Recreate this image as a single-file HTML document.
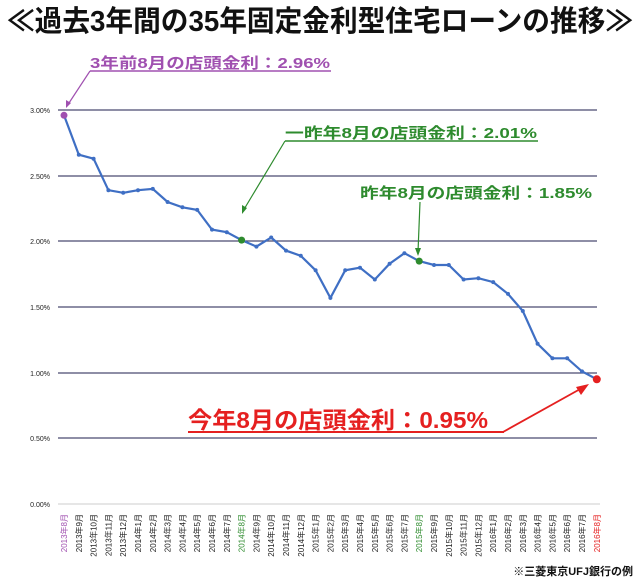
<!DOCTYPE html>
<html><head><meta charset="utf-8"><style>
body{margin:0;background:#fff;width:640px;height:580px;overflow:hidden}
svg{display:block}
</style></head><body>
<svg width="640" height="580" xmlns="http://www.w3.org/2000/svg" font-family="Liberation Sans, Noto Sans CJK JP, sans-serif">
<text x="320" y="31" text-anchor="middle" font-size="29" font-weight="bold" fill="#111" textLength="626" lengthAdjust="spacingAndGlyphs">≪過去3年間の35年固定金利型住宅ローンの推移≫</text>
<g stroke="#4a4a70" stroke-width="1.3">
<line x1="58" y1="110" x2="597" y2="110"/><line x1="58" y1="176" x2="597" y2="176"/><line x1="58" y1="241" x2="597" y2="241"/><line x1="58" y1="307" x2="597" y2="307"/><line x1="58" y1="373" x2="597" y2="373"/><line x1="58" y1="438" x2="597" y2="438"/>
</g>
<line x1="58" y1="504" x2="600" y2="504" stroke="#ccc"/>
<g font-size="7" fill="#222" text-anchor="end">
<text x="50" y="113">3.00%</text><text x="50" y="179">2.50%</text><text x="50" y="244">2.00%</text><text x="50" y="310">1.50%</text><text x="50" y="376">1.00%</text><text x="50" y="441">0.50%</text><text x="50" y="507">0.00%</text>
</g>
<polyline fill="none" stroke="#3f6fc4" stroke-width="2.2" points="64,115.3 78.8,154.7 93.6,158.7 108.4,190.2 123.2,192.8 138,190.2 152.8,188.9 167.6,202 182.4,207.3 197.2,209.9 212,229.6 226.8,232.2 241.6,240.1 256.4,246.6 271.2,237.5 286,250.6 300.8,255.8 315.6,270.3 330.4,297.9 345.2,270.3 360,267.7 374.8,279.5 389.6,263.7 404.4,253.2 419.2,261.1 434,265 448.8,265 463.6,279.5 478.4,278.2 493.2,282.1 508,293.9 522.8,311 537.6,343.8 552.4,358.3 567.2,358.3 582,371.4 596.8,379.3"/>
<g fill="#3f6fc4"><circle cx="78.8" cy="154.7" r="2"/><circle cx="93.6" cy="158.7" r="2"/><circle cx="108.4" cy="190.2" r="2"/><circle cx="123.2" cy="192.8" r="2"/><circle cx="138" cy="190.2" r="2"/><circle cx="152.8" cy="188.9" r="2"/><circle cx="167.6" cy="202" r="2"/><circle cx="182.4" cy="207.3" r="2"/><circle cx="197.2" cy="209.9" r="2"/><circle cx="212" cy="229.6" r="2"/><circle cx="226.8" cy="232.2" r="2"/><circle cx="256.4" cy="246.6" r="2"/><circle cx="271.2" cy="237.5" r="2"/><circle cx="286" cy="250.6" r="2"/><circle cx="300.8" cy="255.8" r="2"/><circle cx="315.6" cy="270.3" r="2"/><circle cx="330.4" cy="297.9" r="2"/><circle cx="345.2" cy="270.3" r="2"/><circle cx="360" cy="267.7" r="2"/><circle cx="374.8" cy="279.5" r="2"/><circle cx="389.6" cy="263.7" r="2"/><circle cx="404.4" cy="253.2" r="2"/><circle cx="434" cy="265" r="2"/><circle cx="448.8" cy="265" r="2"/><circle cx="463.6" cy="279.5" r="2"/><circle cx="478.4" cy="278.2" r="2"/><circle cx="493.2" cy="282.1" r="2"/><circle cx="508" cy="293.9" r="2"/><circle cx="522.8" cy="311" r="2"/><circle cx="537.6" cy="343.8" r="2"/><circle cx="552.4" cy="358.3" r="2"/><circle cx="567.2" cy="358.3" r="2"/><circle cx="582" cy="371.4" r="2"/></g>
<circle cx="64" cy="115.3" r="3.5" fill="#a050b0"/>
<circle cx="241.6" cy="240.1" r="3.5" fill="#2e8b2e"/>
<circle cx="419.2" cy="261.1" r="3.5" fill="#2e8b2e"/>
<circle cx="596.8" cy="379.3" r="4" fill="#e52020"/>
<text x="90" y="68" font-size="15" font-weight="bold" fill="#a050b0" textLength="240" lengthAdjust="spacingAndGlyphs">3年前8月の店頭金利：2.96%</text>
<line x1="90" y1="71" x2="331" y2="71" stroke="#a050b0" stroke-width="1.5"/>
<line x1="90" y1="71" x2="67" y2="106" stroke="#a050b0" stroke-width="1.2"/>
<polygon points="66,108 66,100 71,103" fill="#a050b0"/>
<text x="285" y="138" font-size="15" font-weight="bold" fill="#2e8b2e" textLength="252" lengthAdjust="spacingAndGlyphs">一昨年8月の店頭金利：2.01%</text>
<line x1="285" y1="141" x2="538" y2="141" stroke="#2e8b2e" stroke-width="1.5"/>
<line x1="285" y1="141" x2="243" y2="211" stroke="#2e8b2e" stroke-width="1.2"/>
<polygon points="242,214 242,205 247,208" fill="#2e8b2e"/>
<text x="360" y="198" font-size="15" font-weight="bold" fill="#2e8b2e" textLength="232" lengthAdjust="spacingAndGlyphs">昨年8月の店頭金利：1.85%</text>
<line x1="420" y1="202" x2="418" y2="252" stroke="#2e8b2e" stroke-width="1.2"/>
<polygon points="418,256 415,248 421,248" fill="#2e8b2e"/>
<text x="188" y="428" font-size="23" font-weight="bold" fill="#e52020" textLength="300" lengthAdjust="spacingAndGlyphs">今年8月の店頭金利：0.95%</text>
<line x1="188" y1="432" x2="504" y2="432" stroke="#e52020" stroke-width="2"/>
<line x1="503" y1="432" x2="582" y2="388" stroke="#e52020" stroke-width="1.8"/>
<polygon points="589,384 576,387 581,395" fill="#e52020"/>
<g font-size="8" fill="#222" text-anchor="end">
<text transform="translate(67,514) rotate(-90)" fill="#a050b0">2013年8月</text>
<text transform="translate(81.8,514) rotate(-90)">2013年9月</text>
<text transform="translate(96.6,514) rotate(-90)">2013年10月</text>
<text transform="translate(111.4,514) rotate(-90)">2013年11月</text>
<text transform="translate(126.2,514) rotate(-90)">2013年12月</text>
<text transform="translate(141,514) rotate(-90)">2014年1月</text>
<text transform="translate(155.8,514) rotate(-90)">2014年2月</text>
<text transform="translate(170.6,514) rotate(-90)">2014年3月</text>
<text transform="translate(185.4,514) rotate(-90)">2014年4月</text>
<text transform="translate(200.2,514) rotate(-90)">2014年5月</text>
<text transform="translate(215,514) rotate(-90)">2014年6月</text>
<text transform="translate(229.8,514) rotate(-90)">2014年7月</text>
<text transform="translate(244.6,514) rotate(-90)" fill="#2e8b2e">2014年8月</text>
<text transform="translate(259.4,514) rotate(-90)">2014年9月</text>
<text transform="translate(274.2,514) rotate(-90)">2014年10月</text>
<text transform="translate(289,514) rotate(-90)">2014年11月</text>
<text transform="translate(303.8,514) rotate(-90)">2014年12月</text>
<text transform="translate(318.6,514) rotate(-90)">2015年1月</text>
<text transform="translate(333.4,514) rotate(-90)">2015年2月</text>
<text transform="translate(348.2,514) rotate(-90)">2015年3月</text>
<text transform="translate(363,514) rotate(-90)">2015年4月</text>
<text transform="translate(377.8,514) rotate(-90)">2015年5月</text>
<text transform="translate(392.6,514) rotate(-90)">2015年6月</text>
<text transform="translate(407.4,514) rotate(-90)">2015年7月</text>
<text transform="translate(422.2,514) rotate(-90)" fill="#2e8b2e">2015年8月</text>
<text transform="translate(437,514) rotate(-90)">2015年9月</text>
<text transform="translate(451.8,514) rotate(-90)">2015年10月</text>
<text transform="translate(466.6,514) rotate(-90)">2015年11月</text>
<text transform="translate(481.4,514) rotate(-90)">2015年12月</text>
<text transform="translate(496.2,514) rotate(-90)">2016年1月</text>
<text transform="translate(511,514) rotate(-90)">2016年2月</text>
<text transform="translate(525.8,514) rotate(-90)">2016年3月</text>
<text transform="translate(540.6,514) rotate(-90)">2016年4月</text>
<text transform="translate(555.4,514) rotate(-90)">2016年5月</text>
<text transform="translate(570.2,514) rotate(-90)">2016年6月</text>
<text transform="translate(585,514) rotate(-90)">2016年7月</text>
<text transform="translate(599.8,514) rotate(-90)" fill="#e52020">2016年8月</text>
</g>
<text x="633" y="575" text-anchor="end" font-size="11" font-weight="bold" fill="#111">※三菱東京UFJ銀行の例</text>
</svg>
</body></html>
